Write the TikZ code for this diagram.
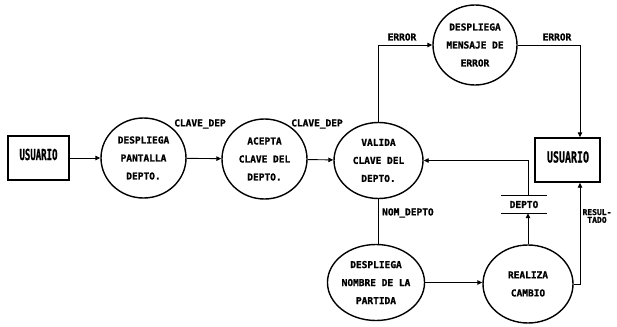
\documentclass[tikz,border=0pt]{standalone}
\usepackage{fontspec}
\setmainfont{DejaVu Sans Mono}[BoldFeatures={FakeBold=1.2}]
\usetikzlibrary{shapes.geometric,arrows.meta}
\tikzset{
  proc/.style={draw,line width=1.4pt,ellipse,inner sep=0pt,align=center,
    font=\fontsize{9.5}{18}\selectfont\bfseries},
  ent/.style={draw,line width=1.4pt,rectangle,inner sep=0pt,
    font=\fontsize{9.5}{11}\selectfont\bfseries},
  flow/.style={line width=0.9pt,-{Triangle[length=5pt,width=4.5pt]}},
  plain/.style={line width=0.9pt},
  lbl/.style={inner sep=0pt,font=\fontsize{9.5}{11}\selectfont\bfseries}
}
\begin{document}
\begin{tikzpicture}[x=1pt,y=-1pt]
\useasboundingbox (0,0) rectangle (617,326);
% entities
\node[ent,minimum width=61pt,minimum height=44pt] (u1) at (38.5,158) {};
\node[lbl] (u1t) at (38.5,154.5) {\scalebox{0.95}[1.6]{USUARIO}};
\node[ent,minimum width=65pt,minimum height=44pt] (u2) at (567.5,160) {};
\node[lbl] (u2t) at (568,157) {\scalebox{1.05}[1.6]{USUARIO}};
% processes
\node[proc,minimum width=85pt,minimum height=80pt] (c1) at (143.5,158) {DESPLIEGA\\PANTALLA\\DEPTO.};
\node[proc,minimum width=85pt,minimum height=80pt] (c2) at (264.5,159) {ACEPTA\\CLAVE DEL\\DEPTO.};
\node[proc,minimum width=89pt,minimum height=76pt] (c3) at (378.5,160.5) {VALIDA\\CLAVE DEL\\DEPTO.};
\node[proc,minimum width=84pt,minimum height=80pt] (c4) at (475,45) {DESPLIEGA\\MENSAJE DE\\ERROR};
\node[proc,minimum width=76pt,minimum height=76pt] (c5) at (376,282.5) {DESPLIEGA\\NOMBRE DE LA\\PARTIDA};
\node[proc,minimum width=90pt,minimum height=78pt] (c6) at (528,284) {REALIZA\\CAMBIO};
% data store
\node[lbl,minimum width=46pt,minimum height=17pt] (st) at (524,204.5) {DEPTO};
\draw[plain] (st.north west) -- (st.north east);
\draw[plain] (st.south west) -- (st.south east);
% helper coordinate for right column
\coordinate (rx) at (580,284);
% flows
\draw[flow] (u1) -- (c1);
\draw[flow] (c1) -- (c2);
\draw[flow] (c2) -- (c3);
\draw[flow] (c3.north) |- (c4.west);
\draw[flow] (c4.east) -| (u2.north -| rx);
\draw[plain] (c3.south) -- (c3.south |- c5.north);
\draw[flow] (c5.east) -- (c6.west |- c5.east);
\draw[flow] (c6.north) -- (c6.north |- st.south);
\draw[flow] (st.north -| c6.north) |- (c3.east);
\draw[flow] (c6.east) -| (u2.south -| rx);
% labels
\node[lbl] (l1) at (200,124) {CLAVE\_DEP};
\node[lbl] (l2) at (317,124) {CLAVE\_DEP};
\node[lbl] (l3) at (402,37) {ERROR};
\node[lbl] (l4) at (557,37) {ERROR};
\node[lbl,anchor=west] (l5) at (382,213) {NOM\_DEPTO};
\node[lbl,align=center,font=\fontsize{8}{7.8}\selectfont\bfseries] (l6) at (597,216) {RESUL-\\TADO};
\end{tikzpicture}
\end{document}
